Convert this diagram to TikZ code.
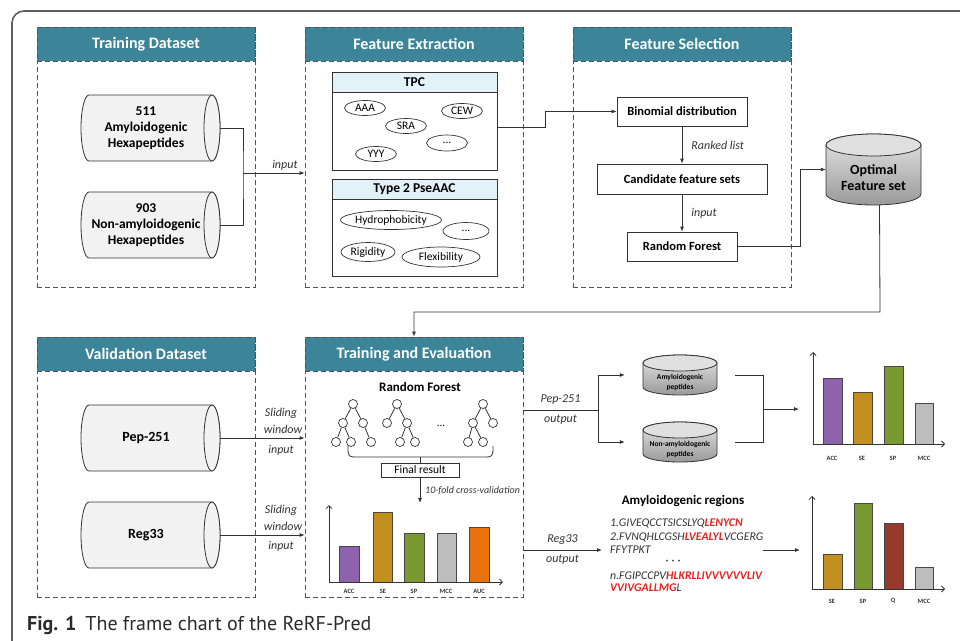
\documentclass[tikz,border=0pt]{standalone}
\usepackage{fontspec}
\setmainfont{Carlito}
\newfontfamily\capfont{PT Sans}
\usetikzlibrary{arrows.meta,shapes.geometric,calc}
\definecolor{teal1}{HTML}{3C8598}
\definecolor{tpchead}{HTML}{E3F1F8}
\definecolor{cylgray}{HTML}{F2F2F2}
\definecolor{barpurple}{HTML}{8E62AC}
\definecolor{bargold}{HTML}{C3901F}
\definecolor{bargreen}{HTML}{7B9932}
\definecolor{bargray}{HTML}{BDBDBD}
\definecolor{barorange}{HTML}{E8710A}
\definecolor{barred}{HTML}{963A2E}
\definecolor{seqred}{HTML}{E52420}
\definecolor{linec}{HTML}{333333}
\definecolor{framec}{HTML}{5F5F5F}
\definecolor{capc}{HTML}{2B2B2B}
\newcommand\fsz[2]{\fontsize{#1}{#2}\selectfont}
\tikzset{
 panel/.style={draw=linec!85, dash pattern=on 5pt off 3pt, line width=0.8pt, inner sep=0, minimum width=218pt, minimum height=260pt},
 header/.style={draw=linec!85, dash pattern=on 5pt off 3pt, line width=0.8pt, fill=teal1, text=white, font=\fsz{16}{18}\bfseries, inner sep=0, minimum width=218pt, minimum height=34pt},
 subbox/.style={draw=linec, line width=0.8pt, inner sep=0, minimum width=165pt},
 subhead/.style={draw=linec, line width=0.8pt, fill=tpchead, inner sep=0, minimum width=165pt, minimum height=20pt, font=\fsz{13.5}{15}\bfseries},
 oval/.style={ellipse, draw=linec, line width=0.7pt, fill=white, inner sep=0, font=\fsz{11.5}{13}},
 stepbox/.style={draw=linec, line width=0.8pt, fill=white, inner sep=0, minimum height=29pt, font=\fsz{12.5}{14}\bfseries},
 conn/.style={draw=linec, line width=0.8pt},
 arr/.style={conn, -{Latex[length=5pt,width=4pt]}},
 lbl/.style={font=\fsz{12}{14}\itshape, text=linec, inner sep=1pt},
 tnode/.style={circle, draw=linec, line width=0.7pt, fill=white, minimum size=9pt, inner sep=0},
 axis/.style={draw=linec, line width=0.8pt, -{Straight Barb[length=3pt,width=6pt]}},
 bar/.style={draw=linec!90, line width=0.8pt},
 barlbl/.style={font=\fsz{6.5}{8}\bfseries, text=linec, inner sep=0},
 cylbody/.style={draw=linec, line width=0.8pt, fill=cylgray},
 vcylbody/.style={draw=linec, line width=0.8pt, top color=white!90!black, bottom color=black!40},
 vcyltop/.style={draw=linec, line width=0.8pt, fill=white!88!black},
 seq/.style={font=\fsz{11.8}{13}\itshape, text=linec, inner sep=0, anchor=west},
}
% horizontal cylinder: name, left, top, font, text
\newcommand\hcylinder[5]{%
  \draw[cylbody] (#2+8,#3) -- (#2+131,#3) arc[start angle=90, end angle=-90, x radius=8pt, y radius=33pt] -- (#2+8,#3+66) arc[start angle=270, end angle=90, x radius=8pt, y radius=33pt] -- cycle;
  \draw[cylbody] (#2+131,#3+33) ellipse[x radius=8pt, y radius=33pt];
  \node[inner sep=0, minimum width=139pt, minimum height=66pt] (#1) at (#2+69.5,#3+33) {};
  \node[align=center, font=#4, inner sep=0] (#1txt) at (#2+65,#3+33) {#5};
}
% vertical cylinder: name, cx, top, rx, height, ry, font, text
\newcommand\vcylinder[8]{%
  \draw[vcylbody] (#2-#4,#3+#6) -- (#2-#4,#3+#5-#6) arc[start angle=180, end angle=360, x radius=#4pt, y radius=#6pt] -- (#2+#4,#3+#6) arc[start angle=0, end angle=180, x radius=#4pt, y radius=#6pt] -- cycle;
  \draw[vcyltop] (#2,#3+#6) ellipse[x radius=#4pt, y radius=#6pt];
  \node[inner sep=0, minimum width={2*#4pt}, minimum height=#5pt] (#1) at (#2,#3+0.5*#5) {};
  \node[align=center, font=#7, inner sep=0] (#1txt) at (#2,#3+0.5*#5+0.5*#6+3) {#8};
}
\begin{document}
\begin{tikzpicture}[x=1pt,y=-1pt]
\useasboundingbox (0,0) rectangle (960,640);
% outer frame
\draw[line width=1.6pt, draw=framec, rounded corners=12pt] (12,650) -- (12,11) -- (970,11);

% ===== panels =====
\node[panel] (td) at (146,157) {};
\node[header] (tdh) at (146,44) {Training Dataset};
\node[panel] (fe) at (414,157) {};
\node[header] (feh) at (414,44) {Feature Extraction};
\node[panel] (fs) at (682,157) {};
\node[header] (fsh) at (682,44) {Feature Selection};
\node[panel] (vd) at (146,467) {};
\node[header] (vdh) at (146,354) {Validation Dataset};
\node[panel] (te) at (414,467) {};
\node[header] (teh) at (414,354) {Training and Evaluation};

% ===== training dataset =====
\hcylinder{c511}{81}{95}{\fsz{13.5}{16}\bfseries}{511\\Amyloidogenic\\Hexapeptides}
\hcylinder{c903}{81}{192}{\fsz{13.5}{16}\bfseries}{903\\Non-amyloidogenic\\Hexapeptides}
\coordinate (jn) at (243,173);
\draw[conn] (c511.east) -| (jn) |- (c903.east);
\draw[arr] (jn) -- (jn -| fe.west) node[lbl, pos=0.68, above=1pt] (inp1) {input};

% ===== feature extraction =====
\node[subbox, minimum height=98pt] (tpc) at (414.5,121) {};
\node[subhead] (tpch) at (414.5,82) {TPC};
\node[oval, minimum width=41pt, minimum height=15pt] (aaa) at (365,108) {AAA};
\node[oval, minimum width=41pt, minimum height=15pt] (sra) at (406,126) {SRA};
\node[oval, minimum width=41pt, minimum height=15pt] (cew) at (462,111) {CEW};
\node[oval, minimum width=41pt, minimum height=16pt] (tdots) at (447,143) {...};
\node[oval, minimum width=41pt, minimum height=15pt] (yyy) at (376,154) {YYY};
\node[subbox, minimum height=97pt] (pse) at (414.5,227.5) {};
\node[subhead] (pseh) at (414.5,189) {Type 2 PseAAC};
\node[oval, minimum width=92pt, minimum height=19pt] (hyd) at (391,220) {Hydrophobicity};
\node[oval, minimum width=46pt, minimum height=17pt] (pdots) at (466,231) {...};
\node[oval, minimum width=54pt, minimum height=19pt] (rig) at (368,252) {Rigidity};
\node[oval, minimum width=78pt, minimum height=20pt] (flex) at (441,257) {Flexibility};

% ===== feature selection =====
\node[stepbox, minimum width=130pt] (bin) at (682,111.5) {Binomial distribution};
\node[stepbox, minimum width=170pt, minimum height=30pt] (cand) at (682,179) {Candidate feature sets};
\node[stepbox, minimum width=110pt] (rf) at (682,246.5) {Random Forest};
\coordinate (tpcout) at (497,127);
\draw[arr] (tpcout) -- (545,127) |- (bin.west);
\draw[arr] (bin.south) -- (cand.north) node[lbl, midway, right=8pt] (rl) {Ranked list};
\draw[arr] (cand.south) -- (rf.north) node[lbl, midway, right=8pt] (inp2) {input};

\vcylinder{ofs}{873.5}{134}{47.5}{71}{11}{\fsz{14}{16}\bfseries}{Optimal\\Feature set}
\draw[arr] (rf.east) -- (800,246.5) |- (ofs.west);
\draw[arr] ([xshift=6pt]ofs.south) -- (880,312) -| (te.north);

% ===== validation dataset =====
\hcylinder{pep}{81}{405}{\fsz{14}{16}\bfseries}{Pep-251}
\hcylinder{reg}{81}{502}{\fsz{14}{16}\bfseries}{Reg33}
\draw[arr] (pep.east) -- (pep.east -| te.west);
\node[lbl] (sw1) at (281,413) {Sliding};
\node[lbl] (ww1) at (283,429) {window};
\node[lbl] (in1) at (281,450) {input};
\draw[arr] (reg.east) -- (reg.east -| te.west);
\node[lbl] (sw2) at (281,510) {Sliding};
\node[lbl] (ww2) at (283,526) {window};
\node[lbl] (in2) at (281,546) {input};

% ===== training and evaluation =====
\node[font=\fsz{13}{15}\bfseries, inner sep=0] (rft) at (420,387) {Random Forest};
\node[tnode] (t1r) at (353,404) {};
\node[tnode] (t1a) at (343,423) {};
\node[tnode] (t1b) at (363,423) {};
\node[tnode] (t1c) at (336,442) {};
\node[tnode] (t1d) at (351,442) {};
\node[tnode] (t1e) at (371,442) {};
\draw[conn] (t1r) -- (t1a) (t1r) -- (t1b) (t1a) -- (t1c) (t1a) -- (t1d) (t1b) -- (t1e);
\node[tnode] (t2r) at (397,404) {};
\node[tnode] (t2a) at (387,423) {};
\node[tnode] (t2b) at (407,423) {};
\node[tnode] (t2c) at (400,442) {};
\node[tnode] (t2d) at (415,442) {};
\draw[conn] (t2r) -- (t2a) (t2r) -- (t2b) (t2b) -- (t2c) (t2b) -- (t2d);
\node[tnode] (t3r) at (483,404) {};
\node[tnode] (t3a) at (473,423) {};
\node[tnode] (t3b) at (493,423) {};
\node[tnode] (t3c) at (468,442) {};
\node[tnode] (t3d) at (483,442) {};
\draw[conn] (t3r) -- (t3a) (t3r) -- (t3b) (t3a) -- (t3c) (t3a) -- (t3d);
\node[font=\fsz{11}{13}, inner sep=0] (tdts) at (441,426) {...};
\draw[conn] (348,446) .. controls (348,457) .. (358,457) -- (483,457) .. controls (493,457) .. (493,446);
\coordinate (brmid) at (420,457);
\node[draw=linec, line width=0.8pt, fill=white, inner sep=0, minimum width=78pt, minimum height=14pt, font=\fsz{11.5}{13}] (fr) at (420,470) {Final result};
\draw[conn] (brmid) -- (fr.north);
\coordinate (cvin) at (420,503);
\draw[arr] (fr.south) -- (cvin);
\node[font=\fsz{10}{12}\itshape, text=linec, anchor=west, inner sep=0] (cv) at (425,491) {10-fold cross-validation};
% chart in T&E
\coordinate (o1) at (329,582);
\draw[bar, fill=barpurple] (339,582) rectangle (359,546);
\draw[bar, fill=bargold] (373,582) rectangle (392,512);
\draw[bar, fill=bargreen] (404,582) rectangle (424,533);
\draw[bar, fill=bargray] (437,582) rectangle (456,533);
\draw[bar, fill=barorange] (469,582) rectangle (489,527);
\draw[axis] (o1) -- (329,505);
\draw[axis] (o1) -- (503,582);
\node[barlbl] (l1a) at (349,591) {ACC};
\node[barlbl] (l1b) at (383,591) {SE};
\node[barlbl] (l1c) at (414,591) {SP};
\node[barlbl] (l1d) at (446,591) {MCC};
\node[barlbl] (l1e) at (479,591) {AUC};

% ===== Pep-251 output =====
\vcylinder{amy}{680}{355}{37}{40}{8}{\fsz{7.5}{10}\bfseries}{Amyloidogenic\\peptides}
\vcylinder{non}{680}{422}{37}{40}{8}{\fsz{7.5}{10}\bfseries}{Non-amyloidogenic\\peptides}
\coordinate (teout) at (523,410);
\coordinate (br1) at (598,410);
\draw[conn] (teout) -- (br1) node[lbl, midway, above=4pt] (pepl) {Pep-251} node[lbl, midway, below=4pt] (outl1) {output};
\draw[arr] (br1) |- ([xshift=-18pt]amy.west);
\draw[arr] (br1) |- ([xshift=-18pt]non.west);
\coordinate (mg1) at (763,409);
\draw[conn] ([xshift=18pt]amy.east) -| (mg1) |- ([xshift=18pt]non.east);
\coordinate (ch1in) at (799,409);
\draw[arr] (mg1) -- (ch1in);
% chart 1
\coordinate (o2) at (813,444);
\draw[bar, fill=barpurple] (823,444) rectangle (842,378);
\draw[bar, fill=bargold] (853,444) rectangle (872,392);
\draw[bar, fill=bargreen] (884,444) rectangle (903,366);
\draw[bar, fill=bargray] (915,444) rectangle (933,403);
\draw[axis] (o2) -- (813,352);
\draw[axis] (o2) -- (945,444);
\node[barlbl] (l2a) at (832,458) {ACC};
\node[barlbl] (l2b) at (862,458) {SE};
\node[barlbl] (l2c) at (893,458) {SP};
\node[barlbl] (l2d) at (924,458) {MCC};

% ===== Reg33 output =====
\coordinate (teout2) at (523,550);
\coordinate (regin) at (602,550);
\draw[arr] (teout2) -- (regin) node[lbl, midway, above=4pt] (regl) {Reg33} node[lbl, midway, below=4pt] (outl2) {output};
\node[font=\fsz{13}{15}\bfseries, text=black, inner sep=0] (amr) at (683,501) {Amyloidogenic regions};
\node[seq] (s1) at (610,523) {1.GIVEQCCTSICSLYQ\textbf{\color{seqred}LENYCN}};
\node[seq] (s2) at (610,537) {2.FVNQHLCGSH\textbf{\color{seqred}LVEALYL}VCGERG};
\node[seq] (s3) at (610,550) {FFYTPKT};
\node[font=\fsz{5}{6}, text=linec, inner sep=0] (sdots) at (673,561) {\textbullet\hspace{3.5pt}\textbullet\hspace{3.5pt}\textbullet};
\node[seq] (s4) at (610,576) {n.FGIPCCPV\textbf{\color{seqred}HLKRLLIVVVVVVLIV}};
\node[seq] (s5) at (610,588) {\textbf{\color{seqred}VVIVGALLMG}L};
\coordinate (regout) at (763,550);
\coordinate (ch2in) at (800,550);
\draw[arr] (regout) -- (ch2in);
% chart 2
\coordinate (o3) at (812,589);
\draw[bar, fill=bargold] (823,589) rectangle (842,554);
\draw[bar, fill=bargreen] (854,589) rectangle (872,503);
\draw[bar, fill=barred] (884,589) rectangle (903,523);
\draw[bar, fill=bargray] (915,589) rectangle (933,567);
\draw[axis] (o3) -- (812,496);
\draw[axis] (o3) -- (945,589);
\node[barlbl] (l3a) at (832,601) {SE};
\node[barlbl] (l3b) at (863,601) {SP};
\node[barlbl] (l3c) at (893,601) {Q};
\node[barlbl] (l3d) at (924,601) {MCC};

% ===== caption =====
\node[anchor=base west, font=\capfont\fsz{20}{24}, text=capc, inner sep=0] (cap) at (27,630) {\textbf{Fig. 1}\hspace{0.45em}The frame chart of the ReRF-Pred};
\end{tikzpicture}
\end{document}
